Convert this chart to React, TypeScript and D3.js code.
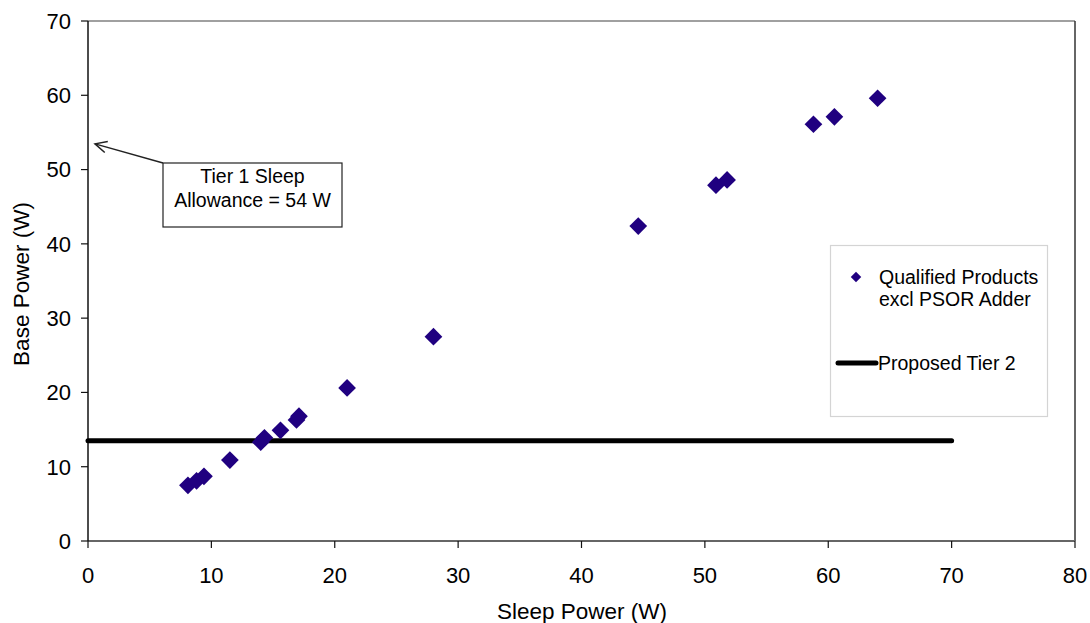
import React from "react";
import * as d3 from "d3";

const sleepPower = [8.1, 8.8, 9.4, 11.5, 14.0, 14.3, 15.6, 16.9, 17.1, 21.0, 28.0, 44.6, 50.9, 51.8, 58.8, 60.5, 64.0];
const basePower = [7.5, 8.1, 8.7, 10.9, 13.3, 13.9, 14.9, 16.3, 16.8, 20.6, 27.5, 42.4, 47.9, 48.6, 56.1, 57.1, 59.6];
const xTicks = [0, 10, 20, 30, 40, 50, 60, 70, 80];
const yTicks = [0, 10, 20, 30, 40, 50, 60, 70];
const tier2Value = 13.5;
const tier2Range = [0, 70];
const tier1Allowance = 54;

const W = 1090;
const H = 623;
const left = 88;
const right = 1075;
const top = 21;
const bottom = 541;
const FONT = "'Liberation Sans', Arial, sans-serif";
const MARK = "#200080";

export default function App() {
  const x = d3.scaleLinear().domain([0, 80]).range([left, right]);
  const y = d3.scaleLinear().domain([0, 70]).range([bottom, top]);
  const diamond = d3.symbol().type(d3.symbolDiamond2).size(200);
  const legendDiamond = d3.symbol().type(d3.symbolDiamond2).size(70);

  const tip = { x: x(0) + 7, y: y(tier1Allowance) + 4 };
  const boxX = 163, boxY = 163, boxW = 179, boxH = 64;
  const ang = Math.atan2(boxY - tip.y, boxX - tip.x);
  const headLen = 13, spread = 0.45;
  const h1 = { x: tip.x + headLen * Math.cos(ang + spread), y: tip.y + headLen * Math.sin(ang + spread) };
  const h2 = { x: tip.x + headLen * Math.cos(ang - spread), y: tip.y + headLen * Math.sin(ang - spread) };

  return (
    <svg width={W} height={H} style={{ position: "absolute", left: 0, top: 0, background: "#fff" }} fontFamily={FONT}>
      {/* plot frame */}
      <line x1={left} x2={right} y1={top} y2={top} stroke="#808080" strokeWidth={1.5} />
      <line x1={right} x2={right} y1={top} y2={bottom} stroke="#333" strokeWidth={1.5} />
      <line x1={left} x2={right} y1={bottom} y2={bottom} stroke="#666" strokeWidth={2} />
      <line x1={left} x2={left} y1={top} y2={bottom} stroke="#111" strokeWidth={1.5} />

      {/* y ticks */}
      {yTicks.map((t) => (
        <g key={"y" + t}>
          <line x1={left - 7} x2={left} y1={y(t)} y2={y(t)} stroke="#111" strokeWidth={1.2} />
          <text x={71} y={y(t)} dy="0.36em" textAnchor="end" fontSize={22} fill="#000">{t}</text>
        </g>
      ))}
      {/* x ticks */}
      {xTicks.map((t) => (
        <g key={"x" + t}>
          <line x1={x(t)} x2={x(t)} y1={bottom} y2={bottom + 7} stroke="#111" strokeWidth={1.2} />
          <text x={x(t)} y={575} dy="0.36em" textAnchor="middle" fontSize={22} fill="#000">{t}</text>
        </g>
      ))}

      {/* axis titles */}
      <text x={582} y={611} dy="0.36em" textAnchor="middle" fontSize={22.5} fill="#000">Sleep Power (W)</text>
      <text transform={`translate(21,284) rotate(-90)`} dy="0.36em" textAnchor="middle" fontSize={22.5} fill="#000">Base Power (W)</text>

      {/* tier 2 line */}
      <line x1={x(tier2Range[0])} x2={x(tier2Range[1])} y1={y(tier2Value)} y2={y(tier2Value)} stroke="#000" strokeWidth={5} strokeLinecap="round" />

      {/* points */}
      {sleepPower.map((v, i) => (
        <path key={i} d={diamond() as string} transform={`translate(${x(v)},${y(basePower[i])})`} fill={MARK} />
      ))}

      {/* annotation */}
      <line x1={boxX} y1={boxY} x2={tip.x} y2={tip.y} stroke="#222" strokeWidth={1.5} />
      <path d={`M${h1.x},${h1.y} L${tip.x},${tip.y} L${h2.x},${h2.y}`} fill="none" stroke="#222" strokeWidth={1.5} />
      <rect x={boxX} y={boxY} width={boxW} height={boxH} fill="#fff" stroke="#222" strokeWidth={1.2} />
      <text x={boxX + boxW / 2} y={176} dy="0.36em" textAnchor="middle" fontSize={19.5} fill="#000">Tier 1 Sleep</text>
      <text x={boxX + boxW / 2} y={200} dy="0.36em" textAnchor="middle" fontSize={19.5} fill="#000">Allowance = 54 W</text>

      {/* legend */}
      <rect x={830.5} y={245.5} width={217} height={171} fill="#fff" stroke="#d4d4d4" strokeWidth={1.2} />
      <path d={legendDiamond() as string} transform="translate(856,277)" fill={MARK} />
      <text x={879} y={277} dy="0.36em" fontSize={19.5} fill="#000">Qualified Products</text>
      <text x={879} y={299} dy="0.36em" fontSize={19.5} fill="#000">excl PSOR Adder</text>
      <line x1={838} x2={876} y1={363} y2={363} stroke="#000" strokeWidth={5} strokeLinecap="round" />
      <text x={878} y={363} dy="0.36em" fontSize={19.5} fill="#000">Proposed Tier 2</text>
    </svg>
  );
}
